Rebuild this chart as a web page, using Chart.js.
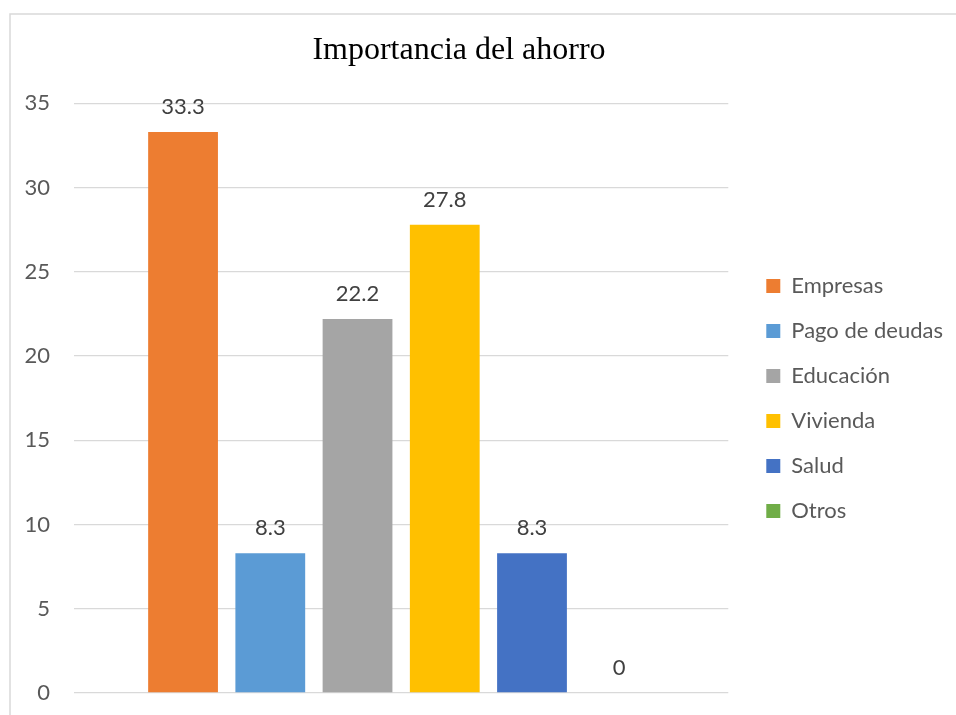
<!DOCTYPE html>
<html>
<head>
<meta charset="utf-8">
<script src="https://cdn.jsdelivr.net/npm/chart.js@4/dist/chart.umd.min.js"></script>
<style>
  html, body { margin: 0; padding: 0; background: #fff; }
  #wrap { width: 956px; height: 715px; position: relative; }
</style>
</head>
<body>
<div id="wrap"><canvas id="c" width="956" height="715"></canvas></div>
<script>
// Destinos del ahorro (porcentaje de respuestas)
const categories = ['Empresas', 'Pago de deudas', 'Educación', 'Vivienda', 'Salud', 'Otros'];
const values = [33.3, 8.3, 22.2, 27.8, 8.3, 0];
const colors = ['#ED7D31', '#5B9BD5', '#A5A5A5', '#FFC000', '#4472C4', '#70AD47'];
const yTicks = [0, 5, 10, 15, 20, 25, 30, 35];

const UI_FONT = 'Lato, "Open Sans", sans-serif';

// Thin frame around the whole chart
const framePlugin = {
  id: 'frame',
  beforeDraw(chart) {
    const ctx = chart.ctx;
    ctx.save();
    ctx.strokeStyle = '#d9d9d9';
    ctx.lineWidth = 1.5;
    ctx.strokeRect(10, 14, 2000, 2000);
    ctx.restore();
  }
};

// Value written above every bar
const valueLabels = {
  id: 'valueLabels',
  afterDatasetsDraw(chart) {
    const ctx = chart.ctx;
    ctx.save();
    ctx.font = '22px ' + UI_FONT;
    ctx.fillStyle = '#404040';
    ctx.textAlign = 'center';
    ctx.textBaseline = 'alphabetic';
    chart.data.datasets.forEach((ds, i) => {
      const meta = chart.getDatasetMeta(i);
      meta.data.forEach((bar, j) => {
        ctx.fillText(String(ds.data[j]), bar.x, bar.y - 18);
      });
    });
    ctx.restore();
  }
};

// Place the legend block beside the plot, vertically centred on it,
// and nudge the title a little to the left
const blockPlace = {
  id: 'blockPlace',
  afterLayout(chart) {
    const lg = chart.legend;
    if (lg) {
      lg.left += 15; lg.right += 15;
      lg.top += 52; lg.bottom += 52;
    }
    const tb = chart.titleBlock;
    if (tb) { tb.left -= 15; tb.right -= 15; }
  }
};

new Chart(document.getElementById('c'), {
  type: 'bar',
  data: {
    labels: [''],
    datasets: categories.map((name, i) => ({
      label: name,
      data: [values[i]],
      backgroundColor: colors[i],
      borderWidth: 0
    }))
  },
  options: {
    responsive: false,
    animation: false,
    devicePixelRatio: 1,
    layout: { padding: { left: 10, right: 18, top: 0, bottom: 22 } },
    datasets: { bar: { categoryPercentage: 0.8, barPercentage: 0.8 } },
    scales: {
      x: {
        display: false
      },
      y: {
        min: 0,
        max: 35,
        afterBuildTicks(scale) { scale.ticks = yTicks.map(v => ({ value: v })); },
        afterFit(scale) { scale.width = 64; },
        grid: { color: '#d9d9d9', lineWidth: 1.3, drawTicks: true, tickLength: 24, tickColor: 'rgba(0,0,0,0)' },
        border: { display: false },
        ticks: { padding: 0, color: '#595959', font: { family: UI_FONT, size: 22 } }
      }
    },
    plugins: {
      title: {
        display: true,
        text: 'Importancia del ahorro',
        color: '#000000',
        font: { family: '"Liberation Serif", "Times New Roman", serif', size: 32, weight: 'normal' },
        padding: { top: 31, bottom: 34 }
      },
      legend: {
        position: 'right',
        labels: {
          boxWidth: 14,
          boxHeight: 14,
          padding: 23,
          color: '#595959',
          font: { family: UI_FONT, size: 22 }
        }
      },
      tooltip: { enabled: false }
    }
  },
  plugins: [framePlugin, valueLabels, blockPlace]
});
</script>
</body>
</html>
